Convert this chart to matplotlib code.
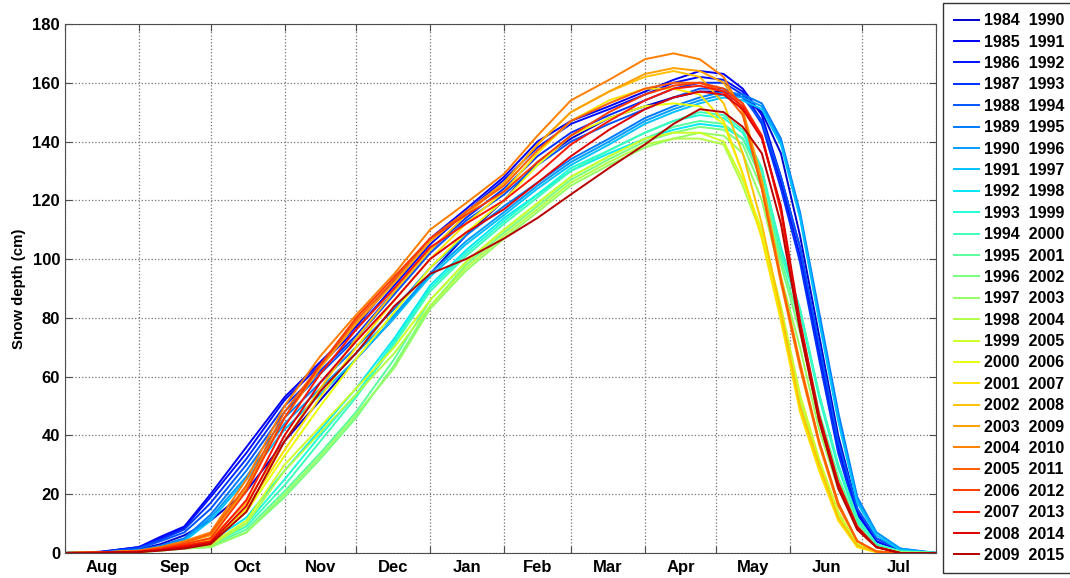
import matplotlib

matplotlib.use("Agg")
import matplotlib.pyplot as plt
import numpy as np

plt.rcParams["font.family"] = ["Liberation Sans", "DejaVu Sans"]
plt.rcParams["font.weight"] = "bold"

# sample days counted from 1 August
days = [0, 15, 31, 40, 50, 61, 76, 92, 107, 122, 138, 153, 168, 184, 198, 212,
        228, 243, 255, 266, 276, 284, 292, 300, 308, 316, 324, 332, 340, 350, 365]

# mean snow depth (cm) per period, one list per start year
d1984 = [0, 0.3, 1.2, 3, 6, 11, 21, 38, 52, 66, 80, 95, 108, 120, 133, 141, 148, 152, 155, 157, 157, 155, 150, 136, 108, 74, 40, 15, 5, 1, 0]
d1985 = [0, 0.4, 2, 5.5, 9, 20, 36, 53, 65, 77, 93, 107, 117, 128, 140, 147, 152, 157, 161, 164, 163, 158, 149, 128, 104, 70, 37, 14, 4, 0.5, 0]
d1986 = [0, 0.4, 2, 5, 8.5, 19, 34, 52, 64, 76, 91, 105, 116, 127, 138, 146, 151, 156, 160, 162, 161, 157, 147, 126, 101, 68, 35, 13, 4, 0.5, 0]
d1987 = [0, 0.3, 1.8, 4.5, 8, 17, 32, 50, 62, 74, 89, 103, 114, 124, 135, 143, 149, 154, 158, 160, 160, 156, 146, 124, 99, 66, 34, 12, 3, 0.5, 0]
d1988 = [0, 0.3, 1.5, 4, 7, 15, 30, 48, 61, 73, 88, 102, 113, 122, 132, 140, 146, 151, 155, 158, 158, 155, 147, 128, 104, 71, 38, 15, 5, 1, 0]
d1989 = [0, 0.2, 1, 2.5, 5, 13, 28, 46, 58, 70, 83, 97, 108, 118, 126, 134, 141, 148, 152, 155, 157, 156, 153, 141, 116, 82, 48, 19, 7, 1.5, 0]
d1990 = [0, 0.2, 0.8, 2, 4.5, 12, 26, 44, 56, 68, 81, 95, 106, 116, 125, 133, 140, 147, 151, 154, 156, 155, 152, 140, 115, 80, 46, 18, 7, 1.5, 0]
d1991 = [0, 0.2, 0.8, 2, 4, 11, 25, 42, 54, 66, 80, 94, 105, 115, 124, 132, 139, 146, 150, 153, 155, 154, 151, 139, 114, 79, 45, 17, 6, 1, 0]
d1992 = [0, 0.1, 0.5, 1.2, 2.5, 4, 12, 28, 42, 56, 73, 91, 103, 114, 122, 130, 136, 141, 144, 146, 145, 141, 130, 104, 83, 54, 30, 12, 3, 0.5, 0]
d1993 = [0, 0.1, 0.5, 1.2, 2.5, 3.5, 10, 25, 40, 54, 72, 90, 102, 113, 122, 131, 137, 143, 147, 149, 148, 143, 130, 102, 82, 53, 29, 11, 3, 0.5, 0]
d1994 = [0, 0.1, 0.4, 1, 2, 3, 9, 23, 38, 53, 71, 89, 101, 112, 121, 130, 137, 143, 147, 150, 149, 144, 131, 103, 83, 54, 30, 12, 3, 0.5, 0]
d1995 = [0, 0.1, 0.4, 1, 2, 2.5, 8, 21, 34, 48, 66, 86, 99, 110, 119, 128, 135, 141, 145, 147, 146, 141, 127, 100, 78, 48, 26, 10, 2, 0.3, 0]
d1996 = [0, 0.1, 0.3, 0.8, 1.5, 2, 7, 19, 32, 46, 64, 84, 98, 109, 118, 127, 134, 140, 143, 145, 144, 139, 124, 98, 75, 46, 25, 9, 2, 0.3, 0]
d1997 = [0, 0.1, 0.3, 0.8, 1.5, 2, 7, 20, 33, 47, 63, 83, 96, 107, 116, 125, 132, 138, 141, 143, 142, 136, 120, 94, 70, 42, 22, 8, 2, 0.3, 0]
d1998 = [0, 0.1, 0.4, 1, 2, 2.5, 10, 28, 41, 54, 68, 84, 97, 108, 117, 126, 133, 139, 141, 141, 139, 125, 108, 82, 52, 31, 13, 3, 0.5, 0, 0]
d1999 = [0, 0.1, 0.4, 1, 2, 3, 11, 30, 43, 56, 70, 86, 99, 110, 119, 128, 135, 141, 143, 143, 140, 127, 110, 84, 54, 32, 14, 3, 0.5, 0, 0]
d2000 = [0, 0.2, 0.5, 1.2, 2.5, 4, 14, 33, 50, 66, 82, 97, 109, 120, 132, 142, 148, 152, 153, 152, 146, 129, 108, 80, 49, 29, 12, 2, 0.3, 0, 0]
d2001 = [0, 0.2, 0.5, 1.3, 2.8, 4.5, 15, 35, 53, 70, 86, 100, 112, 123, 136, 147, 154, 158, 158, 156, 147, 129, 107, 79, 48, 28, 11, 2, 0.3, 0, 0]
d2002 = [0, 0.2, 0.6, 1.5, 3, 5, 17, 38, 56, 73, 89, 103, 115, 126, 139, 150, 157, 162, 164, 162, 153, 136, 112, 82, 50, 30, 12, 2.5, 0.3, 0, 0]
d2003 = [0, 0.2, 0.7, 1.8, 3.5, 6, 22, 46, 63, 78, 92, 106, 116, 126, 139, 150, 157, 163, 165, 164, 160, 151, 127, 94, 65, 38, 17, 4, 0.5, 0, 0]
d2004 = [0, 0.2, 0.8, 2, 4, 7, 25, 50, 67, 81, 95, 110, 119, 129, 142, 154, 161, 168, 170, 168, 162, 150, 124, 92, 63, 37, 16, 4, 0.5, 0, 0]
d2005 = [0, 0.2, 0.7, 1.8, 3.5, 6.5, 23, 48, 64, 79, 93, 107, 116, 125, 137, 147, 153, 158, 160, 160, 157, 149, 124, 93, 64, 38, 17, 4, 0.5, 0, 0]
d2006 = [0, 0.1, 0.5, 1.5, 3, 5, 21, 46, 64, 80, 94, 107, 115, 123, 133, 142, 150, 156, 159, 160, 158, 153, 142, 116, 76, 45, 23, 8, 2, 0, 0]
d2007 = [0, 0.1, 0.4, 1.2, 2.5, 4, 18, 43, 61, 76, 90, 104, 112, 120, 129, 139, 147, 154, 158, 159, 157, 152, 142, 117, 77, 46, 23, 8, 2, 0, 0]
d2008 = [0, 0.1, 0.4, 1, 2, 3.5, 16, 40, 58, 72, 86, 100, 109, 117, 126, 135, 144, 151, 155, 157, 156, 151, 141, 118, 79, 47, 24, 9, 2, 0, 0]
d2009 = [0, 0.1, 0.3, 0.8, 1.5, 3, 14, 38, 55, 68, 84, 95, 100, 107, 114, 122, 131, 139, 146, 151, 150, 145, 136, 112, 76, 45, 22, 8, 2, 0, 0]

series = [d1984, d1985, d1986, d1987, d1988, d1989, d1990, d1991, d1992,
          d1993, d1994, d1995, d1996, d1997, d1998, d1999, d2000, d2001,
          d2002, d2003, d2004, d2005, d2006, d2007, d2008, d2009]
start_years = list(range(1984, 2010))

month_names = ["Aug", "Sep", "Oct", "Nov", "Dec", "Jan", "Feb", "Mar",
               "Apr", "May", "Jun", "Jul"]
month_starts = [0, 31, 61, 92, 122, 153, 184, 212, 243, 273, 304, 334, 365]

fig = plt.figure(figsize=(10.7, 5.78), dpi=100)
ax = fig.add_axes([0.0607, 0.0433, 0.8141, 0.9152])

colors = plt.cm.jet(np.linspace(0.07, 0.95, len(series)))
for yr, vals, c in zip(start_years, series, colors):
    ax.plot(days, vals, color=c, lw=1.4, label=f"{yr}  {yr + 6}")

ax.set_xlim(0, 365)
ax.set_ylim(0, 180)
ax.set_yticks(range(0, 181, 20))
ax.set_xticks(month_starts)
ax.set_xticklabels([])
mids = [(a + b) / 2 for a, b in zip(month_starts[:-1], month_starts[1:])]
ax.set_xticks(mids, minor=True)
ax.set_xticklabels(month_names, minor=True)
ax.tick_params(axis="x", which="minor", length=0, pad=5, labelsize=12)
ax.tick_params(axis="both", which="major", direction="in", length=5,
               top=True, right=True, labelsize=12, color="0.3")
ax.grid(True, which="major", linestyle=":", color="0.45", lw=0.9)
for lab in ax.get_xticklabels(minor=True) + ax.get_yticklabels():
    lab.set_fontweight("bold")
for sp in ax.spines.values():
    sp.set_color("0.3")
ax.set_ylabel("Snow depth (cm)", fontsize=10.8, fontweight="bold", labelpad=5)

leg = fig.legend(loc="upper left", bbox_to_anchor=(0.8815, 0.995),
                 fontsize=11.5, frameon=True, fancybox=False,
                 edgecolor="black", handlelength=1.6, handletextpad=0.3,
                 labelspacing=0.40, borderpad=0.65, borderaxespad=0)
leg.get_frame().set_linewidth(1.0)
for t in leg.get_texts():
    t.set_fontweight("bold")

fig.savefig("out.png", dpi=100)
